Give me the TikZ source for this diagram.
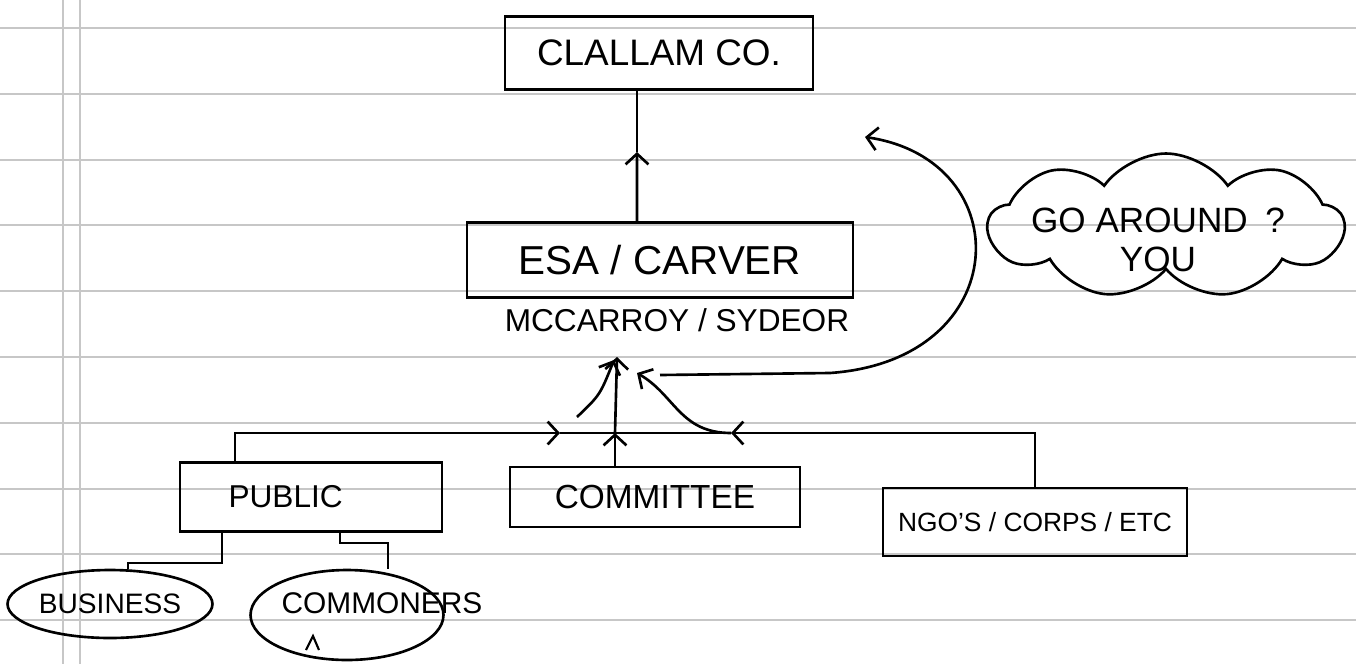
\documentclass[tikz,border=0pt]{standalone}
\usepackage{fontspec}
\setmainfont{Liberation Sans}
\usetikzlibrary{shapes.geometric,shapes.symbols,arrows.meta}

\begin{document}
\begin{tikzpicture}[x=0.02cm, y=-0.02cm, line width=1.5pt,
        >={Straight Barb[length=6pt,width=13pt]},
        box/.style={rectangle, draw},
        blob/.style={ellipse, draw, inner sep=0pt},
        rule/.style={black!22, line width=0.8pt}]
    \useasboundingbox (0,0) rectangle (1356,664);
    % ruled paper
    \foreach \y in {28,94,160,225,291,357,423,489,554,620}
        \draw[rule] (0,\y) -- (1356,\y);
    \draw[rule, line width=0.6pt] (63,0) -- (63,664);
    \draw[rule, line width=0.6pt] (80,0) -- (80,664);

    \node[box, minimum width=6.16cm, minimum height=1.46cm, font=\fontsize{21}{24}\selectfont] (clallam) at (659,53) {CLALLAM CO.};
    \node[box, minimum width=7.72cm, minimum height=1.5cm, font=\fontsize{23}{26}\selectfont] (esa) at (660,260) {ESA / CARVER};
    \node[font=\fontsize{18}{21}\selectfont] (names) at (677,320) {MCCARROY / SYDEOR};
    \node[box, minimum width=5.24cm, minimum height=1.38cm, text width=3.3cm, align=left, font=\fontsize{18}{21}\selectfont] (public) at (311,497) {PUBLIC};
    \node[box, minimum width=5.8cm, minimum height=1.2cm, font=\fontsize{19}{22}\selectfont] (committee) at (655,497) {COMMITTEE};
    \node[box, minimum width=6.08cm, minimum height=1.36cm, font=\fontsize{15}{18}\selectfont] (ngo) at (1035,522) {NGO'S / CORPS / ETC};
    \node[blob, minimum width=4.1cm, minimum height=1.36cm, font=\fontsize{16}{19}\selectfont] (business) at (110,604) {BUSINESS};
    \node[blob, minimum width=3.86cm, minimum height=1.8cm] (commoners) at (347,615) {};
    \node[font=\fontsize{17}{20}\selectfont] (commonerstxt) at (382,603) {COMMONERS};
    \node[cloud, draw, cloud puffs=9, cloud puff arc=110, aspect=2.4, inner sep=0pt,
          minimum width=7.1cm, minimum height=2.9cm] (around) at (1166,226) {};
    \node[align=center, font=\fontsize{20}{22}\selectfont] (aroundtxt) at (1158,240) {GO AROUND\enspace ?\\YOU};

    % up to the county
    \coordinate (upmid) at (637,152);
    \draw[->] ([xshift=-0.46cm]esa.north) -- (upmid);
    \draw (upmid) -- (upmid |- clallam.south);

    % the bus under esa
    \coordinate (hub) at (615,433);
    \coordinate (pin) at (560,433);
    \coordinate (pout) at (731,433);
    \draw[->] ([xshift=-1.52cm]public.north) |- (pin);
    \draw (pin) -- (hub);
    \draw[->] (ngo.north) |- (pout);
    \draw (pout) -- (hub);
    \draw[->] (committee.north -| hub) -- (hub);
    \draw[->] (hub) -- (617,357);
    \draw[->] (577,417) .. controls (600,395) .. (614,360);
    \draw[->] (pout) .. controls (680,433) and (675,395) .. (637,373);

    % going around
    \draw[->] (660,375) -- (830,373) .. controls (1015,360) and (1020,160) .. (865,137);

    % under the public
    \draw ([xshift=-1.78cm]public.south) -- ++(0,30) -| ([xshift=0.36cm]business.north);
    \draw ([xshift=0.58cm]public.south) -- ++(0,10) -| ([xshift=0.82cm]commoners.north);
    \draw[line width=1.2pt] (306,650) -- (313,636) -- (319,650);
\end{tikzpicture}
\end{document}
